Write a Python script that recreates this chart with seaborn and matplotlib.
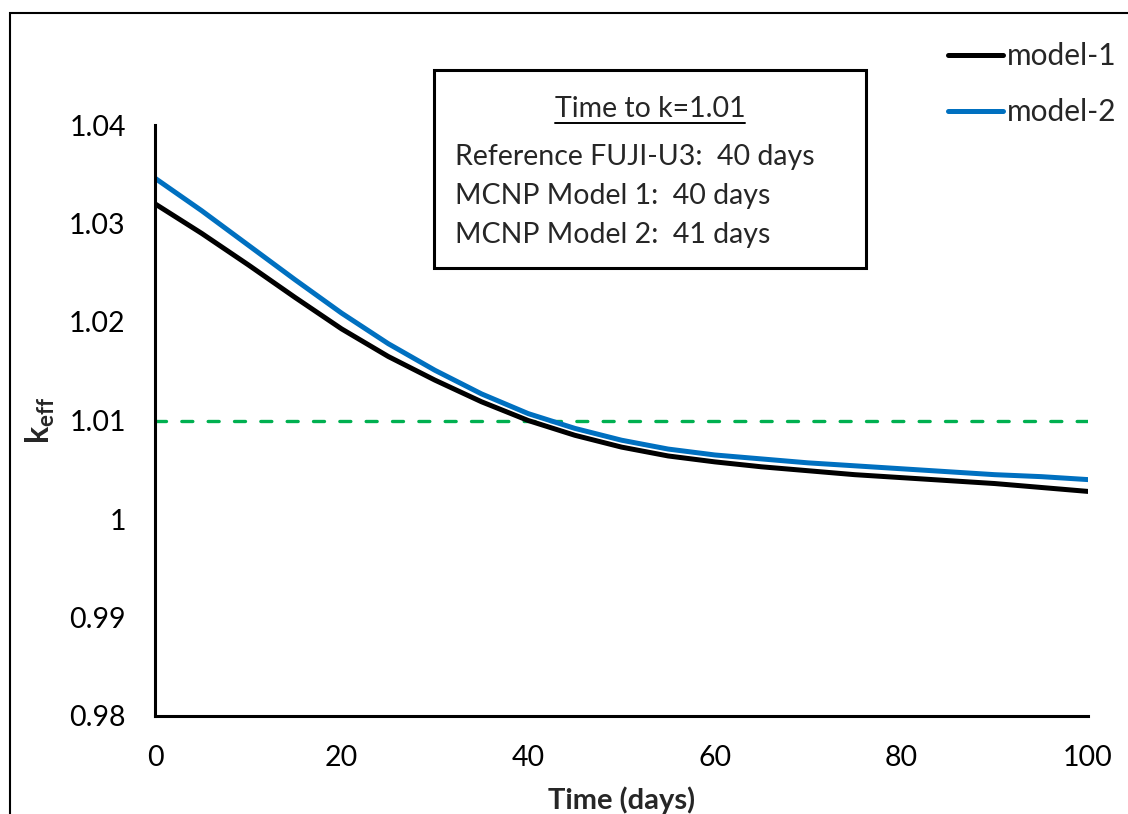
import matplotlib
matplotlib.use("Agg")
import matplotlib.pyplot as plt
from matplotlib.patches import Rectangle
from matplotlib.lines import Line2D
import seaborn as sns
import pandas as pd

# ---- data ----
days = [0, 5, 10, 15, 20, 25, 30, 35, 40, 45, 50, 55, 60, 65, 70, 75, 80, 85, 90, 95, 100]
model1 = [1.0320, 1.0290, 1.0258, 1.0225, 1.0193, 1.0165, 1.0141, 1.0119, 1.0100, 1.0085,
          1.0073, 1.0064, 1.0058, 1.0053, 1.0049, 1.0045, 1.0042, 1.0039, 1.0036, 1.0032, 1.0028]
model2 = [1.0346, 1.0313, 1.0278, 1.0243, 1.0209, 1.0178, 1.0151, 1.0127, 1.0107, 1.0092,
          1.0080, 1.0071, 1.0065, 1.0061, 1.0057, 1.0054, 1.0051, 1.0048, 1.0045, 1.0043, 1.0040]
series_names = ["model-1", "model-2"]
threshold = 1.01
x_ticks = [0, 20, 40, 60, 80, 100]
y_ticks = [0.98, 0.99, 1.00, 1.01, 1.02, 1.03, 1.04]
y_ticklabels = ["0.98", "0.99", "1", "1.01", "1.02", "1.03", "1.04"]
box_title = "Time to k=1.01"
box_lines = ["Reference FUJI-U3:  40 days", "MCNP Model 1:  40 days", "MCNP Model 2:  41 days"]

df = pd.DataFrame({
    "Time (days)": days * 2,
    "keff": model1 + model2,
    "series": [series_names[0]] * len(days) + [series_names[1]] * len(days),
})

sns.set_style("white")
plt.rcParams["font.family"] = ["Lato", "DejaVu Sans"]
plt.rcParams["mathtext.fontset"] = "custom"
plt.rcParams["mathtext.rm"] = "Lato"
plt.rcParams["mathtext.bf"] = "Lato:bold"
plt.rcParams["mathtext.it"] = "Lato:italic"

W, H = 1128, 814
fig = plt.figure(figsize=(W / 100, H / 100), dpi=100)
ax = fig.add_axes([155 / W, 1 - 716 / H, (1088 - 155) / W, (716 - 125) / H])

sns.lineplot(data=df, x="Time (days)", y="keff", hue="series",
             palette={"model-1": "#000000", "model-2": "#0070C0"},
             linewidth=3.6, ax=ax, legend=False, solid_joinstyle="round")
ax.plot([0, 100], [threshold, threshold], color="#00B050", linewidth=2.4,
        dashes=(3.3, 4.6), dash_capstyle="round", zorder=1)

ax.set_xlim(0, 100)
ax.set_ylim(0.98, 1.04)
ax.set_xticks(x_ticks)
ax.set_yticks(y_ticks)
ax.set_yticklabels(y_ticklabels)
for s in ["top", "right"]:
    ax.spines[s].set_visible(False)
for s in ["left", "bottom"]:
    ax.spines[s].set_linewidth(2.2)
    ax.spines[s].set_color("black")
ax.tick_params(axis="both", direction="in", length=7, width=2.2, labelsize=20.5,
               pad=21, colors="black")
ax.set_xlabel("Time (days)", fontsize=21, fontweight="bold")
ax.set_ylabel(r"$\mathbf{k_{eff}}$", fontsize=23)
ax.yaxis.set_label_coords((40 - 155) / (1088 - 155), (716 - 420) / (716 - 125))
ax.xaxis.set_label_coords(0.5, (716 - 800) / (716 - 125))
ax.xaxis.label.set_va("center")
ax.yaxis.label.set_va("center")

# legend
handles = [Line2D([], [], color="#000000", linewidth=3.6),
           Line2D([], [], color="#0070C0", linewidth=3.6)]
ax.legend(handles, series_names, loc="upper left",
          bbox_to_anchor=(948 / W, 1 - 42 / H), bbox_transform=fig.transFigure,
          frameon=False, fontsize=21.5, handlelength=1.84, handletextpad=0.13,
          labelspacing=0.95, borderpad=0, borderaxespad=0)

# text box
fig.patches.append(Rectangle((434 / W, 1 - 268 / H), (866 - 434) / W, (268 - 70) / H,
                             transform=fig.transFigure, fill=False, edgecolor="black",
                             linewidth=2.2, zorder=5))
t = fig.text(650 / W, 1 - 109 / H, box_title, ha="center", va="center", fontsize=20.5)
for i, line in enumerate(box_lines):
    fig.text(455 / W, 1 - [157, 196, 235][i] / H, line, ha="left", va="center", fontsize=20.5)

# outer border
fig.patches.append(Rectangle((10 / W, -0.2), 1.5, 1 - 13.5 / H + 0.2,
                             transform=fig.transFigure, fill=False, edgecolor="black",
                             linewidth=1.5, zorder=0))

fig.canvas.draw()
bb = t.get_window_extent(renderer=fig.canvas.get_renderer())
uy = 1 - 123 / H
fig.lines.append(Line2D([bb.x0 / W, bb.x1 / W], [uy, uy], transform=fig.transFigure,
                        color="black", linewidth=1.4))

fig.savefig("out.png", dpi=100)
